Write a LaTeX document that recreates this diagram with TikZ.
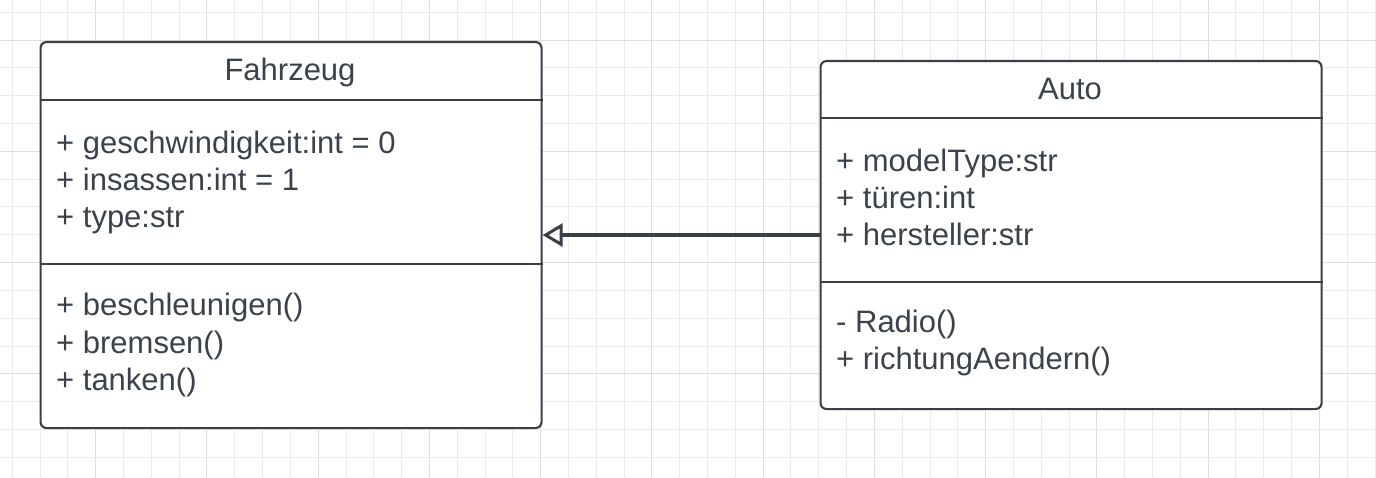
\documentclass[tikz,border=0pt]{standalone}
\usepackage{fontspec}
\setmainfont{Liberation Sans}
\usetikzlibrary{arrows.meta}
\definecolor{edgecol}{HTML}{3A3F47}
\definecolor{txtcol}{HTML}{3C424B}
\definecolor{gridminor}{HTML}{EBEBEB}
\definecolor{gridmajor}{HTML}{DEDEDE}
\begin{document}
\begin{tikzpicture}[x=1pt,y=-1pt,
  classbox/.style={draw=edgecol, line width=2.1pt, rounded corners=6pt, fill=white, inner sep=0pt, anchor=north west},
  divider/.style={draw=edgecol, line width=2pt},
  lbl/.style={anchor=base west, inner sep=0pt, text=txtcol, font=\fontsize{31}{37}\selectfont},
  title/.style={anchor=base, inner sep=0pt, text=txtcol, font=\fontsize{31}{37}\selectfont},
  minor/.style={draw=gridminor, line width=1pt},
  major/.style={draw=gridmajor, line width=1pt}]
\useasboundingbox[fill=white] (0,0) rectangle (1376,478);
% grid
\foreach \i in {0,...,49}{
  \pgfmathtruncatemacro{\m}{mod(\i,4)}
  \ifnum\m=3 \draw[major] ({12.3+27.81*\i},0) -- ({12.3+27.81*\i},478);
  \else \draw[minor] ({12.3+27.81*\i},0) -- ({12.3+27.81*\i},478); \fi
}
\foreach \i in {0,...,16}{
  \pgfmathtruncatemacro{\m}{mod(\i,4)}
  \ifnum\m=1 \draw[major] (0,{12.3+27.81*\i}) -- (1376,{12.3+27.81*\i});
  \else \draw[minor] (0,{12.3+27.81*\i}) -- (1376,{12.3+27.81*\i}); \fi
}
% Fahrzeug
\node[classbox, minimum width=501pt, minimum height=386pt] (fz) at (39.5,41) {};
\draw[divider] ([yshift=-59pt]fz.north west) -- ([yshift=-59pt]fz.north east);
\draw[divider] ([yshift=-223pt]fz.north west) -- ([yshift=-223pt]fz.north east);
\node[title] (fzt) at (290,81) {Fahrzeug};
\node[lbl] (fza1) at (56,154) {+ geschwindigkeit:int = 0};
\node[lbl] (fza2) at (56,191) {+ insassen:int = 1};
\node[lbl] (fza3) at (56,228) {+ type:str};
\node[lbl] (fzm1) at (56,316) {+ beschleunigen()};
\node[lbl] (fzm2) at (56,353) {+ bremsen()};
\node[lbl] (fzm3) at (56,390) {+ tanken()};
% Auto
\node[classbox, minimum width=501pt, minimum height=348pt] (auto) at (819.5,60) {};
\draw[divider] ([yshift=-58pt]auto.north west) -- ([yshift=-58pt]auto.north east);
\draw[divider] ([yshift=-222pt]auto.north west) -- ([yshift=-222pt]auto.north east);
\node[title] (aut) at (1070,100) {Auto};
\node[lbl] (aa1) at (836,172) {+ modelType:str};
\node[lbl] (aa2) at (836,209) {+ türen:int};
\node[lbl] (aa3) at (836,246) {+ hersteller:str};
\node[lbl] (am1) at (836,332) {- Radio()};
\node[lbl] (am2) at (836,369) {+ richtungAendern()};
% generalization
\draw[draw=edgecol, line width=3.2pt, -{Triangle[open, length=20pt, width=23pt, line width=3pt]}] (auto.west) -- (fz.east);
\end{tikzpicture}
\end{document}
